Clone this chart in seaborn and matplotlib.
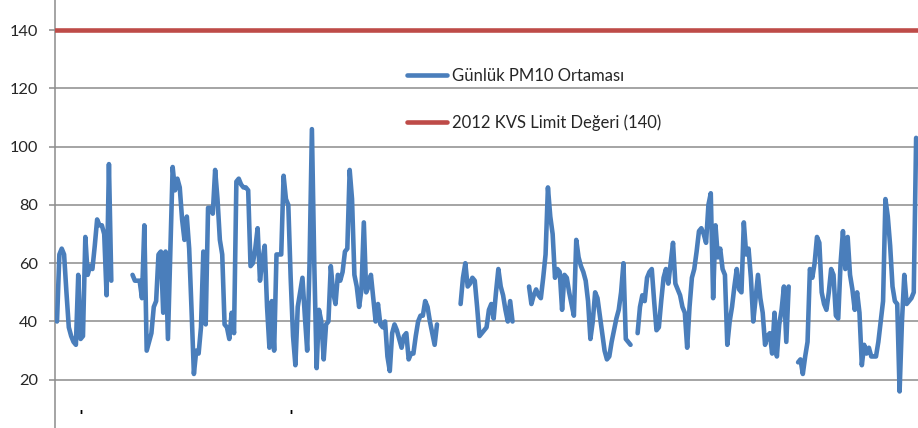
import numpy as np
import pandas as pd
import matplotlib
matplotlib.use("Agg")
import matplotlib.pyplot as plt
from matplotlib.lines import Line2D
import seaborn as sns

sns.set_theme(style="white")
plt.rcParams["font.family"] = ["Lato", "DejaVu Sans"]

# Günlük PM10 ortalamaları (gün 0..364), ölçüm olmayan günler NaN
nan = np.nan
pm10 = [
    40, 63, 65, 63, 50, 38, 35, 33, 32, 56, 34, 35, 69, 56, 59, 58, 66, 75, 73, 73,
    70, 49, 94, 54, nan, nan, nan, nan, nan, nan, nan, nan, 56, 54, 54, 54, 48, 73, 30, 33,
    36, 45, 47, 63, 64, 43, 64, 34, 63, 93, 85, 89, 86, 75, 68, 76, 65, 44, 22, 30,
    29, 38, 64, 39, 79, 79, 77, 92, 82, 68, 63, 39, 38, 34, 43, 36, 88, 89, 87, 86,
    86, 85, 59, 60, 65, 72, 54, 61, 66, 45, 31, 47, 30, 63, 63, 63, 90, 82, 80, 55,
    35, 25, 45, 50, 55, 42, 30, 60, 106, 60, 24, 44, 40, 27, 39, 40, 59, 50, 46, 56,
    54, 57, 64, 65, 92, 82, 56, 52, 45, 51, 74, 50, 52, 56, 48, 40, 46, 39, 38, 40,
    28, 23, 36, 39, 37, 34, 31, 35, 36, 27, 29, 29, 35, 40, 42, 42, 47, 45, 40, 36,
    32, 39, nan, nan, nan, nan, nan, nan, nan, nan, nan, 46, 55, 60, 52, 53, 55, 54, 45, 35,
    36, 37, 38, 44, 46, 41, 50, 58, 52, 49, 44, 40, 47, 40, nan, nan, nan, nan, nan, nan,
    52, 46, 49, 51, 49, 48, 55, 63, 86, 76, 70, 55, 58, 57, 44, 56, 55, 50, 46, 42,
    68, 62, 59, 57, 54, 47, 34, 40, 50, 48, 42, 36, 30, 27, 28, 33, 37, 41, 44, 50,
    60, 34, 33, 32, nan, nan, 36, 45, 49, 47, 55, 57, 58, 47, 37, 38, 47, 55, 58, 53,
    60, 67, 53, 51, 49, 45, 43, 31, 45, 55, 58, 64, 71, 72, 70, 67, 80, 84, 48, 73,
    62, 65, 58, 56, 32, 40, 45, 52, 58, 51, 50, 74, 63, 65, 55, 40, 48, 56, 48, 43,
    32, 35, 36, 29, 43, 28, 39, 44, 52, 33, 52, nan, nan, nan, 26, 27, 22, 28, 33, 58,
    55, 60, 69, 67, 50, 46, 44, 50, 58, 56, 42, 41, 60, 71, 58, 69, 56, 51, 44, 50,
    43, 25, 32, 29, 31, 28, 28, 28, 33, 40, 47, 82, 76, 66, 52, 47, 46, 16, 40, 56,
    46, 47, 48, 50, 103,
]
limit_value = 140
label_pm10 = "Günlük PM10 Ortaması"
label_limit = "2012 KVS Limit Değeri (140)"
y_ticks = [20, 40, 60, 80, 100, 120, 140]

blue = "#4A7EBB"
red = "#BE4B48"
grid_grey = "#8C8C8C"

df = pd.DataFrame({"day": np.arange(len(pm10)), "pm10": pm10})
# boşluklarda çizgi kopsun diye her kesintisiz parçaya ayrı id
df["seg"] = df["pm10"].isna().cumsum()
df = df.dropna()

fig = plt.figure(figsize=(9.18, 4.28), dpi=100)
ax = fig.add_axes([55 / 918, 0, 1 - 55 / 918, 1])

ax.axhline(limit_value, color=red, linewidth=3.3, zorder=3)
sns.lineplot(data=df, x="day", y="pm10", units="seg", estimator=None,
             color=blue, linewidth=3.3, ax=ax, zorder=4)

ax.set_xlim(-0.85, 364.8)
ax.set_ylim(3.46, 150.3)
ax.set_yticks(y_ticks)
ax.set_xticks([])
ax.set_xlabel("")
ax.set_ylabel("")
ax.grid(axis="y", color=grid_grey, linewidth=1.1)
ax.set_axisbelow(True)

for side in ["top", "right", "bottom"]:
    ax.spines[side].set_visible(False)
ax.spines["left"].set_color(grid_grey)
ax.spines["left"].set_linewidth(1.1)
ax.tick_params(axis="y", left=True, length=4.3, width=1.1, color=grid_grey,
               pad=8, labelsize=11.8, labelcolor="#262626")

handles = [Line2D([], [], color=blue, linewidth=3.3),
           Line2D([], [], color=red, linewidth=3.3)]
fig.legend(handles, [label_pm10, label_limit], loc="upper left",
           bbox_to_anchor=(407 / 918, 1 - 68 / 428), frameon=False,
           fontsize=12, handlelength=2.4, handletextpad=0.3,
           labelspacing=1.8, borderpad=0, borderaxespad=0)

# alttaki kesik etiket izleri
for d in [10, 99]:
    ax.text(d, 3.46, "ˈ", ha="center", va="bottom", fontsize=14,
            color="black", fontweight="bold")

fig.savefig("out.png", dpi=100)
plt.close(fig)
